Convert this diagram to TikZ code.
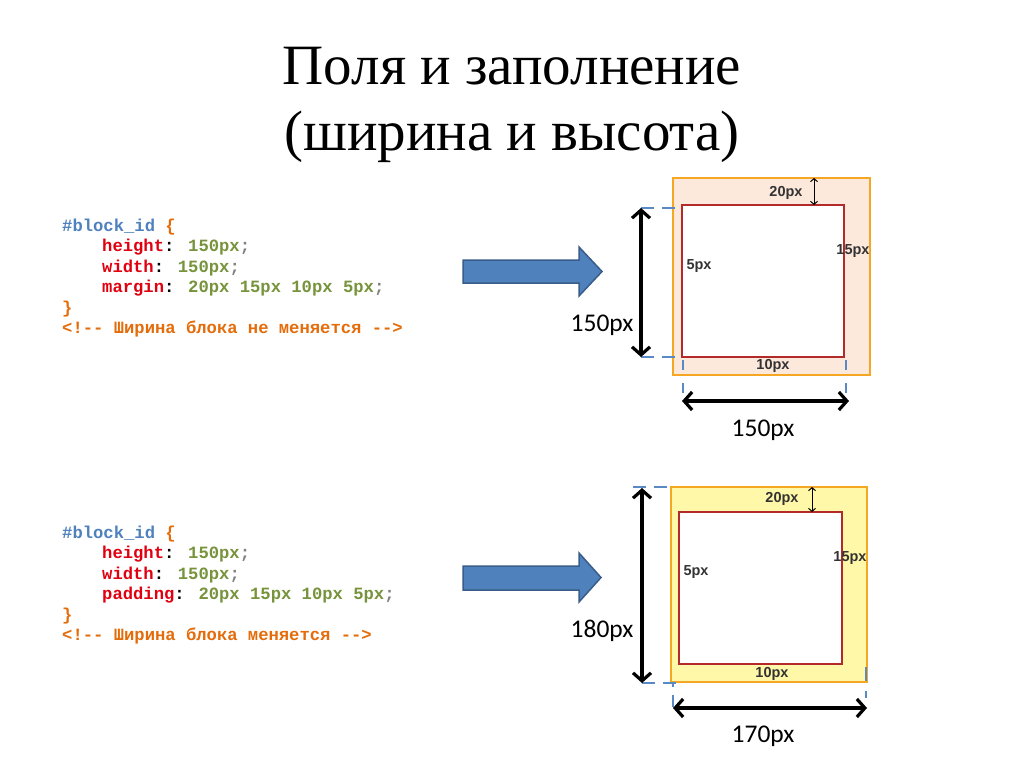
\documentclass[tikz,border=0pt]{standalone}
\usepackage{fontspec}
\setmainfont{Liberation Serif}
\newfontfamily\codefont{Liberation Mono}
\newfontfamily\lblfont{Carlito}
\newfontfamily\smallfont{Liberation Sans}
\usetikzlibrary{arrows.meta}
\definecolor{selblue}{HTML}{4F81BD}
\definecolor{codeorange}{HTML}{E46C0A}
\definecolor{propred}{HTML}{E00010}
\definecolor{valgreen}{HTML}{77933C}
\definecolor{semigray}{HTML}{7F7F7F}
\definecolor{arrowfill}{HTML}{4F81BD}
\definecolor{arrowline}{HTML}{385D8A}
\definecolor{boxorange}{HTML}{F5A623}
\definecolor{peach}{HTML}{FDE9DC}
\definecolor{paleyellow}{HTML}{FFF8A8}
\definecolor{innerred}{HTML}{B22A2A}
\definecolor{dashblue}{HTML}{5A8AC6}
\definecolor{smallgray}{HTML}{333333}
\tikzset{
  codeline/.style={anchor=base west, inner sep=0pt, font=\codefont\bfseries\fontsize{17.2}{19}\selectfont},
  title/.style={anchor=base, inner sep=0pt, font=\fontsize{57}{66}\selectfont},
  dimlbl/.style={inner sep=0pt, font=\lblfont\fontsize{25.5}{27}\selectfont},
  smalllbl/.style={inner sep=0pt, text=smallgray, font=\smallfont\bfseries\fontsize{14.5}{16}\selectfont},
  blockarrow/.style={fill=arrowfill, draw=arrowline, line width=1.5pt, line join=miter},
  outerbox/.style={draw=boxorange, line width=2pt},
  innerbox/.style={draw=innerred, line width=1.6pt, fill=white},
  dimarrow/.style={line width=3.2pt, {Straight Barb[length=8pt,width=18pt,line width=3.2pt]}-{Straight Barb[length=8pt,width=18pt,line width=3.2pt]}},
  smallarrow/.style={line width=1pt, {Straight Barb[length=3pt,width=7pt]}-{Straight Barb[length=3pt,width=7pt]}},
  guide/.style={draw=dashblue, line width=2.5pt, dash pattern=on 13pt off 8pt}
}
\newcommand{\sel}[1]{\textcolor{selblue}{#1}}
\newcommand{\brc}[1]{\textcolor{codeorange}{#1}}
\newcommand{\prop}[1]{\textcolor{propred}{#1}}
\newcommand{\val}[1]{\textcolor{valgreen}{#1}}
\newcommand{\semi}{\textcolor{semigray}{;}}
\begin{document}
\begin{tikzpicture}[x=1pt,y=-1pt]
\useasboundingbox[fill=white] (0,0) rectangle (1024,768);

% title
\node[title] (title1) at (512,84) {Поля и заполнение};
\node[title] (title2) at (512,150) {(ширина и высота)};

% code block 1
\node[codeline] (c1a) at (62,231) {\sel{\#block\_id} \brc{\{}};
\node[codeline] (c1b) at (102,251.5) {\prop{height}: \val{150px}\semi};
\node[codeline] (c1c) at (102,272) {\prop{width}: \val{150px}\semi};
\node[codeline] (c1d) at (102,292.5) {\prop{margin}: \val{20px 15px 10px 5px}\semi};
\node[codeline] (c1e) at (62,313) {\brc{\}}};
\node[codeline] (c1f) at (62,333.5) {\brc{<!-- Ширина блока не меняется -->}};

% code block 2
\node[codeline] (c2a) at (62,538) {\sel{\#block\_id} \brc{\{}};
\node[codeline] (c2b) at (102,558.5) {\prop{height}: \val{150px}\semi};
\node[codeline] (c2c) at (102,579) {\prop{width}: \val{150px}\semi};
\node[codeline] (c2d) at (102,599.5) {\prop{padding}: \val{20px 15px 10px 5px}\semi};
\node[codeline] (c2e) at (62,620) {\brc{\}}};
\node[codeline] (c2f) at (62,640.5) {\brc{<!-- Ширина блока меняется -->}};

% block arrows
\draw[blockarrow] (463,260) -- (579,260) -- (579,247) -- (602,271.5) -- (579,296) -- (579,283) -- (463,283) -- cycle;
\draw[blockarrow] (463,566) -- (579,566) -- (579,553) -- (601,577.5) -- (579,602) -- (579,590) -- (463,590) -- cycle;

% ---------- diagram 1 (margin) ----------
\draw[outerbox, fill=peach] (673,178) rectangle (870,375);
\draw[innerbox] (682,205) rectangle (844,357);
\node[smalllbl] (m20) at (786,193) {20px};
\node[smalllbl] (m15) at (853,251) {15px};
\node[smalllbl] (m5) at (699,266) {5px};
\node[smalllbl] (m10) at (773,366) {10px};
\coordinate (m20t) at (814,178);
\coordinate (m20b) at (814,205);
\draw[smallarrow] (m20t) -- (m20b);
% guides
\coordinate (g1tl) at (641,208);
\coordinate (g1tr) at (682,208);
\coordinate (g1bl) at (641,357);
\coordinate (g1br) at (682,357);
\draw[guide] (g1tl) -- (g1tr);
\draw[guide] (g1bl) -- (g1br);
\coordinate (g1l1) at (683,360);
\coordinate (g1l2) at (683,395);
\coordinate (g1r1) at (846,360);
\coordinate (g1r2) at (846,395);
\draw[guide, dash pattern=on 10pt off 13pt] (g1l1) -- (g1l2);
\draw[guide, dash pattern=on 10pt off 13pt] (g1r1) -- (g1r2);
% dimension arrows
\coordinate (v1t) at (641,208);
\coordinate (v1b) at (641,357);
\draw[dimarrow] (v1t) -- (v1b);
\node[dimlbl] (l1v) at (602,325) {150px};
\coordinate (h1l) at (682,401);
\coordinate (h1r) at (849,401);
\draw[dimarrow] (h1l) -- (h1r);
\node[dimlbl] (l1h) at (763,430) {150px};

% ---------- diagram 2 (padding) ----------
\draw[outerbox, fill=paleyellow] (671,487) rectangle (867,682);
\draw[innerbox] (679,512) rectangle (842,664);
\node[smalllbl] (p20) at (782,499) {20px};
\node[smalllbl] (p15) at (850,558) {15px};
\node[smalllbl] (p5) at (696,572) {5px};
\node[smalllbl] (p10) at (772,674) {10px};
\coordinate (p20t) at (812,487);
\coordinate (p20b) at (812,512);
\draw[smallarrow] (p20t) -- (p20b);
% guides
\coordinate (g2tl) at (633,487);
\coordinate (g2tr) at (671,487);
\coordinate (g2bl) at (642,683);
\coordinate (g2br) at (676,683);
\draw[guide] (g2tl) -- (g2tr);
\draw[guide] (g2bl) -- (g2br);
\coordinate (g2l1) at (673,683);
\coordinate (g2l2) at (673,708);
\coordinate (g2r1) at (866,667);
\coordinate (g2r2) at (866,708);
\draw[guide, dash pattern=on 4pt off 8pt on 12pt off 30pt] (g2l1) -- (g2l2);
\draw[guide, dash pattern=on 14pt off 10pt on 7pt off 30pt] (g2r1) -- (g2r2);
% dimension arrows
\coordinate (v2t) at (642,488);
\coordinate (v2b) at (642,683);
\draw[dimarrow] (v2t) -- (v2b);
\node[dimlbl] (l2v) at (602,631) {180px};
\coordinate (h2l) at (673,708);
\coordinate (h2r) at (867,708);
\draw[dimarrow] (h2l) -- (h2r);
\node[dimlbl] (l2h) at (763,736) {170px};
\end{tikzpicture}
\end{document}
